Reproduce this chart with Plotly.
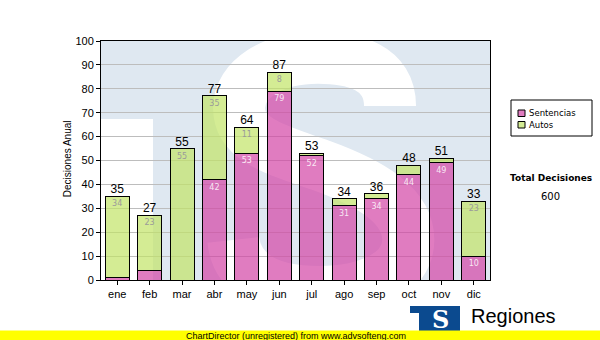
import plotly.graph_objects as go

# Monthly decisions, split by type
months = ["ene", "feb", "mar", "abr", "may", "jun", "jul", "ago", "sep", "oct", "nov", "dic"]
sentencias = [1, 4, 0, 42, 53, 79, 52, 31, 34, 44, 49, 10]
autos = [34, 23, 55, 35, 11, 8, 1, 3, 2, 4, 2, 23]
series_names = ["Sentencias", "Autos"]
y_ticks = list(range(0, 101, 10))

totals = [s + a for s, a in zip(sentencias, autos)]
grand_total = sum(totals)

PINK = "rgba(211,68,165,0.7)"
GREEN = "rgba(194,228,102,0.7)"
FONT = "Liberation Sans, Arial, sans-serif"
SMALL = "DejaVu Sans, sans-serif"

x_idx = list(range(len(months)))
X_MIN, X_MAX = -0.5, len(months) - 0.5
Y_MIN, Y_MAX = 0, 100


def seg_labels(vals, min_show=5):
    return [str(v) if v >= min_show else "" for v in vals]


fig = go.Figure()
fig.add_trace(go.Bar(
    x=x_idx, y=sentencias, name=series_names[0], width=0.74,
    marker=dict(color=PINK, line=dict(color="black", width=1)),
    text=seg_labels(sentencias), textposition="inside", insidetextanchor="end",
    insidetextfont=dict(family=SMALL, size=8, color="rgba(255,255,255,0.85)"),
    hoverinfo="skip",
))
fig.add_trace(go.Bar(
    x=x_idx, y=autos, name=series_names[1], width=0.74,
    marker=dict(color=GREEN, line=dict(color="black", width=1)),
    text=seg_labels(autos), textposition="inside", insidetextanchor="end",
    insidetextfont=dict(family=SMALL, size=8, color="#9a9a9a"),
    hoverinfo="skip",
))
# stack totals above each bar
fig.add_trace(go.Scatter(
    x=x_idx, y=totals, mode="text", text=[str(t) for t in totals],
    textposition="top center", textfont=dict(family=FONT, size=12, color="black"),
    cliponaxis=False, hoverinfo="skip", showlegend=False,
))


def to_data(fx, fy):
    """Plot-area fraction -> data coordinates."""
    return X_MIN + (X_MAX - X_MIN) * fx, Y_MIN + (Y_MAX - Y_MIN) * fy


# Background emblem: a large white "S" and a white block over the light-blue plot area
s_curve = [
    ("M", [(0.7430, 0.7280)]),
    ("C", [(0.7430, 0.8900), (0.6500, 0.9300), (0.5578, 0.9300)]),
    ("C", [(0.4400, 0.9300), (0.3550, 0.8400), (0.3550, 0.7197)]),
    ("C", [(0.3550, 0.5800), (0.4602, 0.5400), (0.5630, 0.4812)]),
    ("C", [(0.6915, 0.4059), (0.7900, 0.3138), (0.7900, 0.1674)]),
    ("C", [(0.7900, 0.0209), (0.6787, -0.0500), (0.5630, -0.0500)]),
    ("C", [(0.4344, -0.0500), (0.3500, 0.0209), (0.3400, 0.1674)]),
]
path = ""
for cmd, pts in s_curve:
    path += cmd + " " + " ".join("%.4f,%.4f" % to_data(fx, fy) for fx, fy in pts) + " "

bx0, by0 = to_data(-0.01, -0.01)
bx1, by1 = to_data(0.1337, 0.6736)

shapes = [
    dict(type="rect", xref="x", yref="y", x0=bx0, y0=by0, x1=bx1, y1=by1,
         fillcolor="white", line=dict(width=0), layer="below"),
    dict(type="path", xref="x", yref="y", path=path.strip(),
         line=dict(color="white", width=52), layer="below"),
]


def px(xp):
    return (xp - 101) / 389.0


def py(yp):
    return (280 - yp) / 239.0


# Legend box
shapes += [
    dict(type="rect", xref="paper", yref="paper", x0=px(511), x1=px(592), y0=py(136), y1=py(100),
         fillcolor="white", line=dict(color="black", width=1)),
    dict(type="rect", xref="paper", yref="paper", x0=px(518), x1=px(525), y0=py(116.5), y1=py(110),
         fillcolor=PINK, line=dict(color="black", width=1)),
    dict(type="rect", xref="paper", yref="paper", x0=px(518), x1=px(525), y0=py(128), y1=py(121.5),
         fillcolor=GREEN, line=dict(color="black", width=1)),
]
# Logo block and footer strip
shapes += [
    dict(type="rect", xref="paper", yref="paper", x0=px(410), x1=px(460), y0=py(332), y1=py(306),
         fillcolor="#0b4a8f", line=dict(width=0)),
    dict(type="rect", xref="paper", yref="paper", x0=px(410), x1=px(419), y0=py(332), y1=py(313),
         fillcolor="white", line=dict(width=0)),
    dict(type="rect", xref="paper", yref="paper", x0=px(-2), x1=px(602), y0=py(341), y1=py(330.5),
         fillcolor="#ffff00", line=dict(width=0)),
]


def note(text, x, y, size, family=FONT, xanchor="center", angle=0, color="black"):
    return dict(text=text, xref="paper", yref="paper", x=px(x), y=py(y),
                xanchor=xanchor, yanchor="middle", textangle=angle, showarrow=False,
                font=dict(family=family, size=size, color=color))


annotations = [
    note("Decisiones Anual", 67.5, 158.7, 10, angle=-90),
    note(series_names[0], 527, 113.3, 8.5, family=SMALL, xanchor="left"),
    note(series_names[1], 527, 124.8, 8.5, family=SMALL, xanchor="left"),
    note("<b>Total Decisiones</b>", 551, 177.5, 9, family=SMALL),
    note(str(grand_total), 550, 196, 10, family=SMALL),
    note("<b>S</b>", 440, 319, 24, family="DejaVu Serif, serif", color="white"),
    note("Regiones", 469, 316, 20, xanchor="left"),
    note("ChartDirector (unregistered) from www.advsofteng.com", 296, 335.5, 9),
]

fig.update_layout(
    width=600, height=340,
    margin=dict(l=101, r=110, t=41, b=60),
    barmode="stack",
    showlegend=False,
    paper_bgcolor="white",
    plot_bgcolor="#dfe8f1",
    font=dict(family=FONT, size=11, color="black"),
    shapes=shapes,
    annotations=annotations,
)
fig.update_xaxes(
    range=[X_MIN, X_MAX], tickmode="array", tickvals=x_idx, ticktext=months,
    ticks="outside", ticklen=4, tickcolor="black",
    showline=True, linecolor="black", linewidth=1, mirror=True,
    showgrid=False, zeroline=False, fixedrange=True,
    tickfont=dict(family=FONT, size=11, color="black"),
)
fig.update_yaxes(
    range=[Y_MIN, Y_MAX], tickmode="array", tickvals=y_ticks,
    ticks="outside", ticklen=4, tickcolor="black",
    showline=True, linecolor="black", linewidth=1, mirror=True,
    showgrid=True, gridcolor="#bdbdbd", gridwidth=1, zeroline=False, fixedrange=True,
    tickfont=dict(family=FONT, size=11, color="black"),
)

fig.write_html("out.html", config={"displayModeBar": False})
